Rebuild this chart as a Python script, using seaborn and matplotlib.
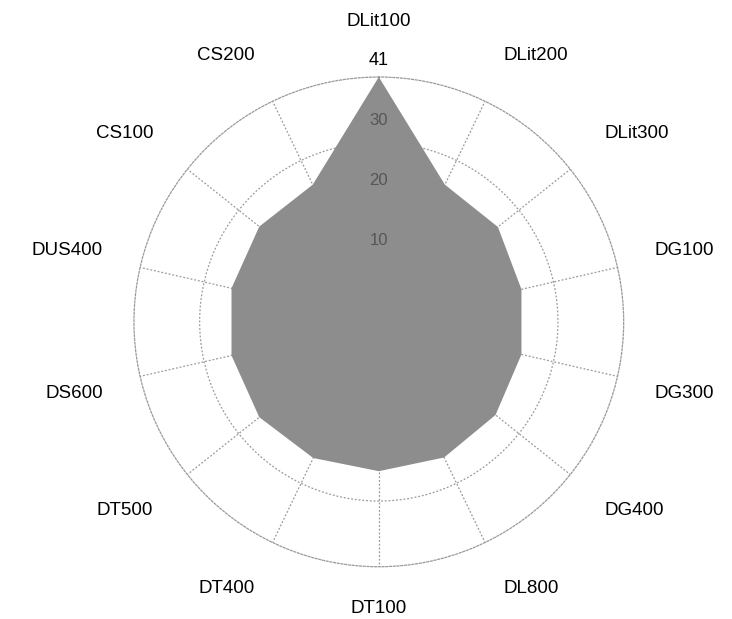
import numpy as np
import pandas as pd
import matplotlib
matplotlib.use('Agg')
import matplotlib.pyplot as plt
import seaborn as sns

# categories clockwise from the top
categories = ['DLit100', 'DLit200', 'DLit300', 'DG100', 'DG300', 'DG400', 'DL800',
              'DT100', 'DT400', 'DT500', 'DS600', 'DUS400', 'CS100', 'CS200']
values = [41, 25.5, 25.5, 24.5, 24.5, 25, 25.2, 25, 25.3, 25.6, 25.3, 25.3, 25.6, 25.5]
ring_ticks = [10, 20, 30]
r_max = 41

sns.set_theme(style='white')
plt.rcParams['font.family'] = ['Liberation Sans', 'DejaVu Sans']

df = pd.DataFrame({'category': categories, 'value': values})
n = len(df)
df['angle'] = np.arange(n) * 2 * np.pi / n

fig = plt.figure(figsize=(7.32, 6.19), dpi=100)
ax = fig.add_axes([0.183, 0.084, 0.669, 0.792], projection='polar')
ax.set_theta_zero_location('N')
ax.set_theta_direction(-1)
ax.set_ylim(0, r_max)
ax.set_axisbelow(True)

# closed polygon
theta = np.append(df['angle'].values, df['angle'].values[0])
r = np.append(df['value'].values, df['value'].values[0])
ax.fill(theta, r, color='#8d8d8d', linewidth=0, zorder=2)

ax.set_xticks(df['angle'].values)
ax.set_xticklabels([])
ax.set_yticks(ring_ticks)
ax.set_yticklabels([])
ax.grid(True, color='#9a9a9a', linestyle=(0, (1.5, 1.5)), linewidth=0.9)
ax.spines['polar'].set_color('#9a9a9a')
ax.spines['polar'].set_linestyle((0, (1.5, 1.5)))
ax.spines['polar'].set_linewidth(0.9)

# category labels, anchored so the text box sits outside the circle
for name, ang in zip(df['category'], df['angle']):
    s, c = np.sin(ang), np.cos(ang)
    ha = 'left' if s > 0.15 else ('right' if s < -0.15 else 'center')
    va = 'bottom' if c > 0.15 else ('top' if c < -0.15 else 'center')
    label_r = r_max + 5.6 + 1.8 * abs(np.sin(2 * ang))
    if abs(s) < 0.15 and c > 0:
        # leave room for the max label above the top spoke
        label_r += 2.2
    ax.text(ang, label_r, name, ha=ha, va=va, fontsize=13.5, color='black',
            clip_on=False)

# radial labels along the top spoke
for v in ring_ticks:
    ax.text(0, v + 3.7, str(v), ha='center', va='center', fontsize=12,
            color='#555555', zorder=3)
ax.text(0, r_max + 2.8, str(r_max), ha='center', va='center', fontsize=13,
        color='black', clip_on=False)

fig.savefig('out.png', dpi=100)
plt.close(fig)
